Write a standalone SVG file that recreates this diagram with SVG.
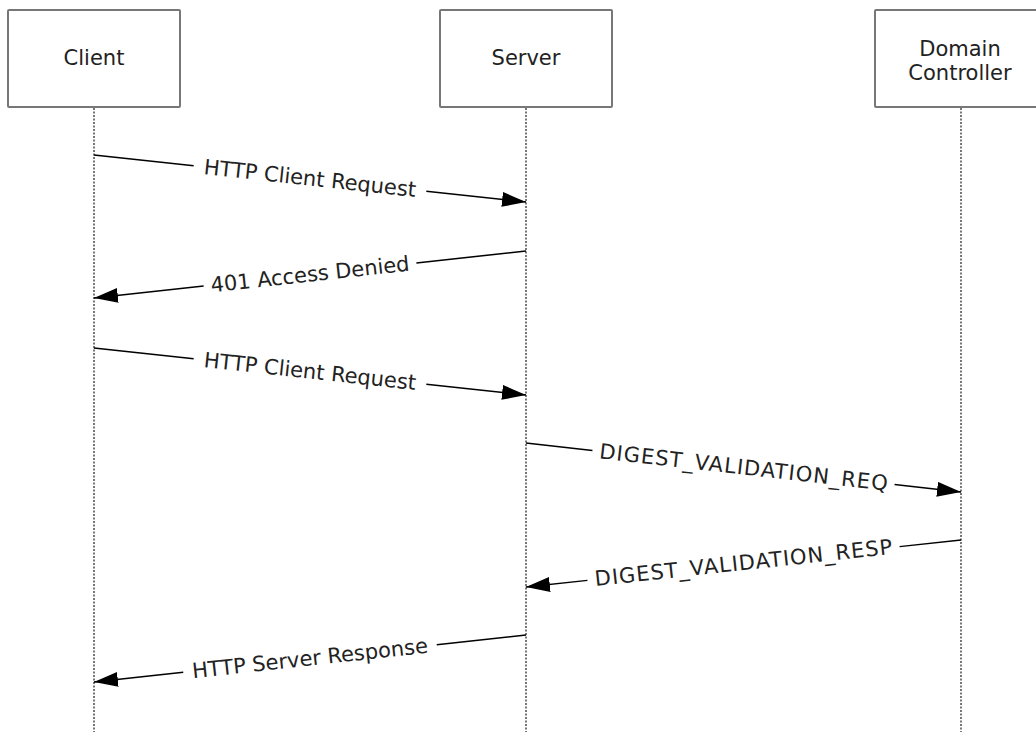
<svg xmlns="http://www.w3.org/2000/svg" width="1036" height="732" viewBox="0 0 1036 732">
  <style>
    .box { fill: #ffffff; stroke: #777777; stroke-width: 2; }
    .life { stroke: #777777; stroke-width: 2; stroke-dasharray: 2 1.5; fill: none; }
    .lbl { font-family: "DejaVu Sans", Verdana, sans-serif; font-size: 21px; fill: #222222; text-anchor: middle; }
    .msg { stroke: #000000; stroke-width: 1.5; fill: none; }
  </style>
  <defs>
    <marker id="ah" markerUnits="userSpaceOnUse" markerWidth="26" markerHeight="16" refX="24" refY="7.5" orient="auto">
      <path d="M0,0 L24,7.5 L0,15 z" fill="#000000"/>
    </marker>
  </defs>
  <rect width="1036" height="732" fill="#ffffff"/>

  <g id="lifelines">
    <line class="life" x1="94" y1="108" x2="94" y2="732"/>
    <line class="life" x1="526" y1="108" x2="526" y2="732"/>
    <line class="life" x1="961" y1="108" x2="961" y2="732"/>
  </g>

  <g id="client">
    <rect class="box" x="8" y="10" width="172" height="97" rx="1"/>
    <text class="lbl" x="94" y="65">Client</text>
  </g>
  <g id="server">
    <rect class="box" x="440" y="10" width="172" height="97" rx="1"/>
    <text class="lbl" x="526" y="65">Server</text>
  </g>
  <g id="domain-controller">
    <rect class="box" x="875" y="10" width="172" height="97" rx="1"/>
    <text class="lbl" x="960" y="56">Domain</text>
    <text class="lbl" x="960" y="80">Controller</text>
  </g>

  <g id="connectors">
    <!-- 1: Client -> Server -->
    <g transform="translate(310,178.5) rotate(6.21)">
      <line class="msg" x1="-217.3" y1="0" x2="-117" y2="0"/>
      <line class="msg" x1="117" y1="0" x2="217.3" y2="0" marker-end="url(#ah)"/>
      <text class="lbl" x="0" y="7">HTTP Client Request</text>
    </g>
    <!-- 2: Server -> Client -->
    <g transform="translate(310,274.5) rotate(-6.21)">
      <line class="msg" x1="217.3" y1="0" x2="107" y2="0"/>
      <line class="msg" x1="-107" y1="0" x2="-217.3" y2="0" marker-end="url(#ah)"/>
      <text class="lbl" x="0" y="7">401 Access Denied</text>
    </g>
    <!-- 3: Client -> Server -->
    <g transform="translate(310,371.5) rotate(6.21)">
      <line class="msg" x1="-217.3" y1="0" x2="-117" y2="0"/>
      <line class="msg" x1="117" y1="0" x2="217.3" y2="0" marker-end="url(#ah)"/>
      <text class="lbl" x="0" y="7">HTTP Client Request</text>
    </g>
    <!-- 4: Server -> Domain Controller -->
    <g transform="translate(743.5,467.5) rotate(6.43)">
      <line class="msg" x1="-218.9" y1="0" x2="-152" y2="0"/>
      <line class="msg" x1="152" y1="0" x2="218.9" y2="0" marker-end="url(#ah)"/>
      <text class="lbl" x="0" y="7" textLength="290" lengthAdjust="spacing">DIGEST_VALIDATION_REQ</text>
    </g>
    <!-- 5: Domain Controller -> Server -->
    <g transform="translate(743.5,563.5) rotate(-6.17)">
      <line class="msg" x1="218.8" y1="0" x2="157" y2="0"/>
      <line class="msg" x1="-157" y1="0" x2="-218.8" y2="0" marker-end="url(#ah)"/>
      <text class="lbl" x="0" y="6.5" textLength="299" lengthAdjust="spacing">DIGEST_VALIDATION_RESP</text>
    </g>
    <!-- 6: Server -> Client -->
    <g transform="translate(310,658.5) rotate(-6.21)">
      <line class="msg" x1="217.3" y1="0" x2="127.5" y2="0"/>
      <line class="msg" x1="-127.5" y1="0" x2="-217.3" y2="0" marker-end="url(#ah)"/>
      <text class="lbl" x="0" y="7">HTTP Server Response</text>
    </g>
  </g>
</svg>
